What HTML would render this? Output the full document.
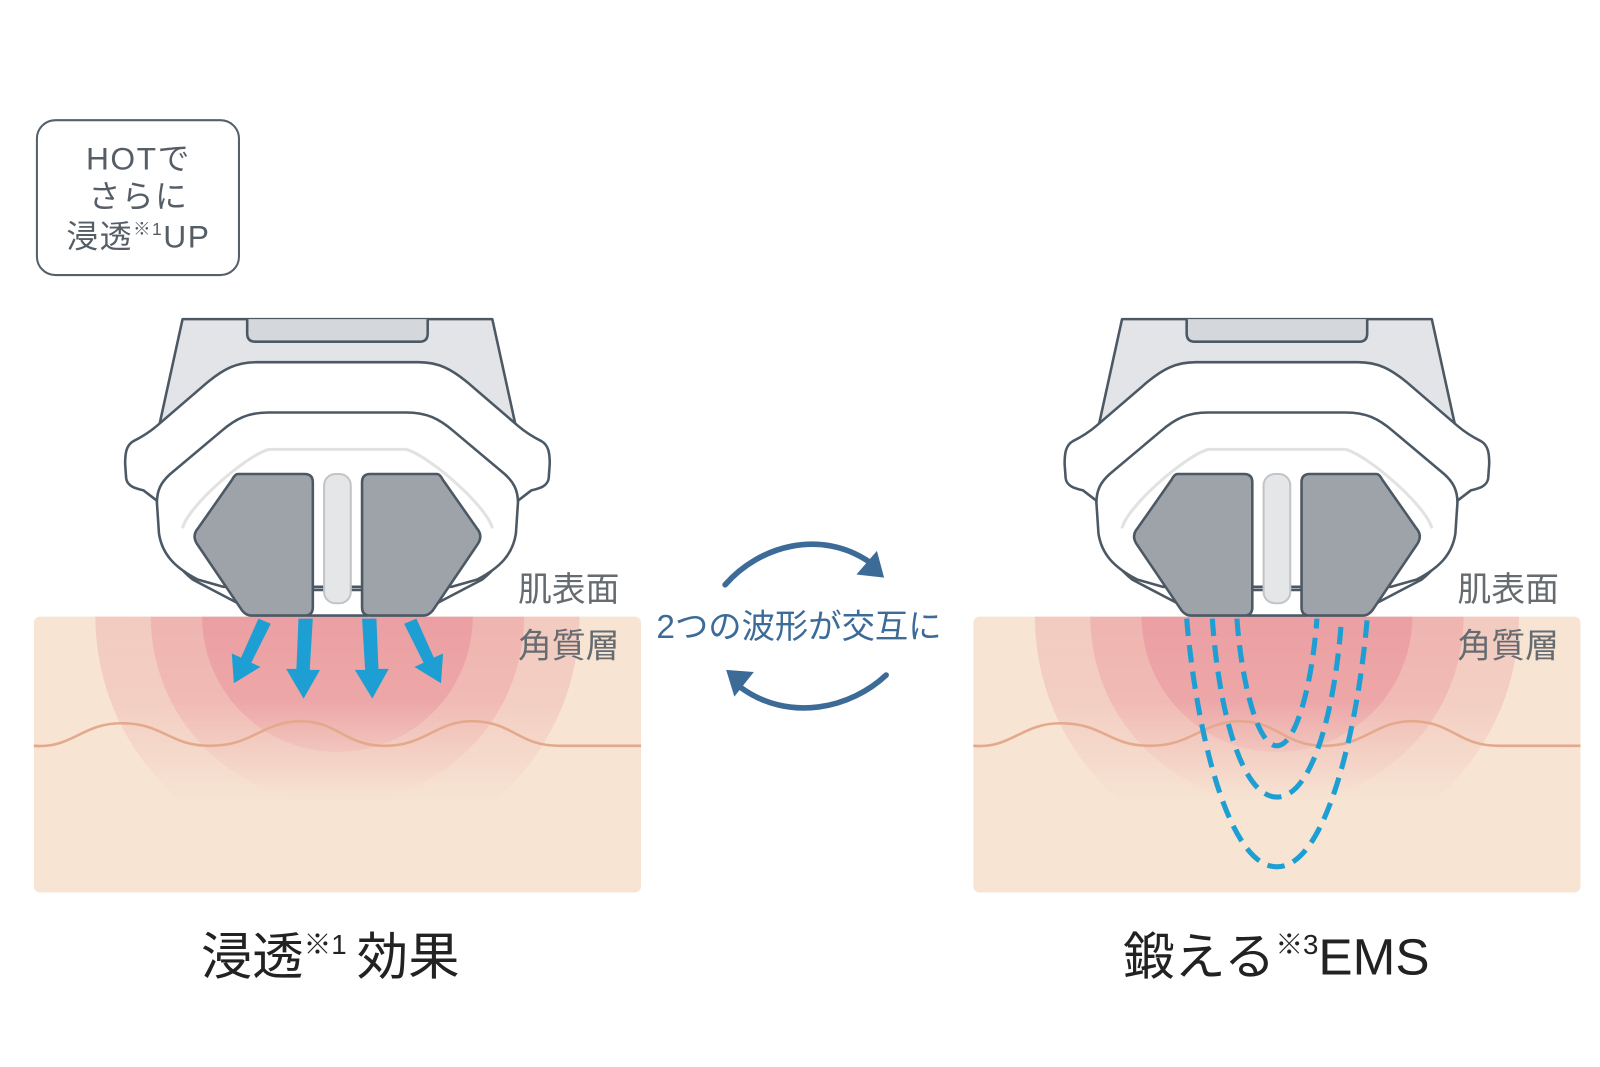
<!DOCTYPE html>
<html><head><meta charset="utf-8">
<style>
html,body{margin:0;padding:0;background:#fff;}
svg{display:block;}
text{font-family:"Liberation Sans","Noto Sans CJK JP",sans-serif;}
</style></head>
<body>
<svg width="1600" height="1067" viewBox="0 0 1560 1040" xmlns="http://www.w3.org/2000/svg">
<defs>
  <linearGradient id="fade" gradientUnits="userSpaceOnUse" x1="0" y1="601" x2="0" y2="781">
    <stop offset="0" stop-color="#fff" stop-opacity="1"/>
    <stop offset="0.45" stop-color="#fff" stop-opacity="0.9"/>
    <stop offset="1" stop-color="#fff" stop-opacity="0"/>
  </linearGradient>
  <mask id="fm" maskUnits="userSpaceOnUse" x="-400" y="595" width="800" height="200">
    <rect x="-400" y="601" width="800" height="180" fill="url(#fade)"/>
  </mask>
  <clipPath id="skinL"><rect x="33" y="601" width="592" height="269" rx="6"/></clipPath>
  <clipPath id="skinR"><rect x="949" y="601" width="592" height="269" rx="6"/></clipPath>
  <g id="rings">
    <g mask="url(#fm)">
      <circle cx="0" cy="601" r="236" fill="#f2cbc0"/>
      <circle cx="0" cy="601" r="182" fill="#efb5b0"/>
      <circle cx="0" cy="601" r="132" fill="#eb9fa2"/>
    </g>
  </g>
  <g id="device" stroke="#4c5864" stroke-width="2.5" stroke-linejoin="round">
    <path d="M178,311 H480 L505,425 H153 Z" fill="#e2e4e7"/>
    <path d="M241,311 V325 Q241,333 249,333 H409 Q417,333 417,325 V311" fill="#d4d7db"/>
    <path d="M250,353 H408 C428,353 440,360 455,372 L505,415 C512,421 520,426 528,430 C535,434 536,442 536,452 L535,466 C534,474 526,476 518,478 L505,488 C503,520 495,545 470,565 L426,588 H232 L188,565 C163,545 155,520 153,488 L140,478 C132,476 124,474 123,466 L122,452 C122,442 123,434 130,430 C138,426 146,421 153,415 L203,372 C218,360 230,353 250,353 Z" fill="#fff"/>
    <path d="M262,402 H396 C416,402 428,408 442,420 L492,462 C501,470 505,478 505,490 L503,520 C500,540 488,553 465,565 L440,572 H218 L193,565 C170,553 158,540 155,520 L153,490 C153,478 157,470 166,462 L216,420 C230,408 242,402 262,402 Z" fill="#fff"/>
    <path d="M178,515 C182,495 238,445 262,438 H396 C420,445 476,495 480,515" fill="none" stroke="#e2e2e2" stroke-width="3"/>
    <rect x="300" y="575" width="58" height="25" fill="#fff"/>
    <rect x="316" y="462" width="26" height="126" rx="11" fill="#e4e6e8" stroke="#c2c5c8" stroke-width="2"/>
    <path d="M232,462 H297 Q305,462 305,470 V592 Q305,600 297,600 H245 Q240,600 236,595 L192,530 Q187,522 193,515 L226,468 Q229,462 232,462 Z" fill="#9ea3a9"/>
    <path d="M426,462 H361 Q353,462 353,470 V592 Q353,600 361,600 H413 Q418,600 422,595 L466,530 Q471,522 465,515 L432,468 Q429,462 426,462 Z" fill="#9ea3a9"/>
  </g>
</defs>

<!-- HOT box -->
<rect x="36" y="117" width="197" height="151" rx="18" fill="#fff" stroke="#56606a" stroke-width="2"/>
<g font-size="31" fill="#555d66" text-anchor="middle" letter-spacing="1.5">
<text x="135" y="165">HOTで</text>
<text x="135" y="202">さらに</text>
<text x="135" y="241">浸透<tspan font-size="17" dy="-12">※1</tspan><tspan dy="12">UP</tspan></text>
</g>

<!-- left skin -->
<rect x="33" y="601" width="592" height="269" rx="6" fill="#f7e4d3"/>
<g clip-path="url(#skinL)"><use href="#rings" transform="translate(329,0)"/></g>
<path d="M33,727 C70,730 80,705 118,705 C160,705 165,727 205,727 C245,727 255,705 290,703 C330,702 335,727 375,727 C415,727 425,703 460,703 C500,703 505,727 545,727 L625,727" fill="none" stroke="#e4a98c" stroke-width="2.5"/>

<!-- right skin -->
<rect x="949" y="601" width="592" height="269" rx="6" fill="#f7e4d3"/>
<g clip-path="url(#skinR)"><use href="#rings" transform="translate(1245,0)"/></g>
<path d="M949,727 C986,730 996,705 1034,705 C1076,705 1081,727 1121,727 C1161,727 1171,705 1206,703 C1246,702 1251,727 1291,727 C1331,727 1341,703 1376,703 C1416,703 1421,727 1461,727 L1541,727" fill="none" stroke="#e4a98c" stroke-width="2.5"/>

<!-- devices -->
<use href="#device"/>
<use href="#device" transform="translate(916,0)"/>

<!-- left arrows -->
<g fill="#1e9fd3">
  <path d="M252,603 L264,608 L245,646 L254,650 L228,666 L226,637 L235,641 Z"/>
  <path d="M291,603 L305,603 L302,653 L312,653 L296,681 L279,652 L289,652 Z"/>
  <path d="M353,603 L367,603 L369,652 L379,652 L363,681 L346,653 L356,653 Z"/>
  <path d="M394,608 L406,603 L423,641 L432,637 L430,666 L404,650 L413,646 Z"/>
</g>

<!-- dashed U -->
<g fill="none" stroke="#1e9fd3" stroke-width="5" stroke-dasharray="17 9">
  <path d="M1157,603 C1165,700 1195,845 1245,845 C1295,845 1325,700 1333,603"/>
  <path d="M1182,603 C1188,690 1210,777 1245,777 C1280,777 1302,690 1308,603"/>
  <path d="M1206,603 C1210,660 1225,727 1245,727 C1265,727 1280,660 1284,603"/>
</g>

<!-- labels -->
<g font-size="33" fill="#666b70">
  <text x="505" y="586">肌表面</text>
  <text x="505" y="641">角質層</text>
  <text x="1421" y="586">肌表面</text>
  <text x="1421" y="641">角質層</text>
</g>
<text x="640" y="622" font-size="32.5" fill="#3d6b98">2つの波形が交互に</text>

<!-- cycle arrows -->
<g fill="none" stroke="#3d6b98" stroke-width="5.5" stroke-linecap="round">
  <path d="M707,570 C740,532 800,515 848,548"/>
  <path d="M864,658 C830,690 770,705 722,670"/>
</g>
<path d="M862,563 L835,560 L855,537 Z" fill="#3d6b98"/>
<path d="M708,653 L735,655 L716,679 Z" fill="#3d6b98"/>

<!-- titles -->
<text x="196" y="950" font-size="50" fill="#222">浸透<tspan font-size="27" dy="-20">※1</tspan><tspan dy="20" dx="10">効果</tspan></text>
<text x="1095" y="950" font-size="50" fill="#222">鍛える<tspan font-size="27" dy="-20">※3</tspan><tspan dy="20">EMS</tspan></text>
</svg>
</body></html>
